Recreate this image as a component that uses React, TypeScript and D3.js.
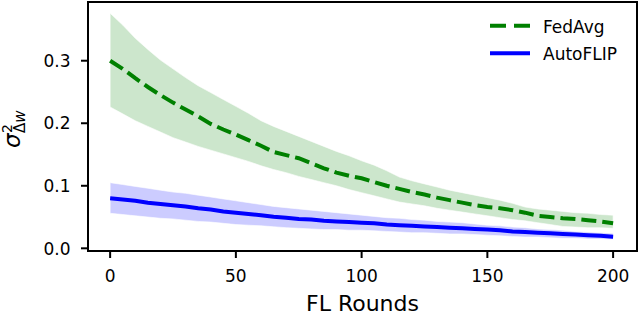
import React from "react";
import * as d3 from "d3";

const rounds = [0,5,10,15,20,25,30,35,40,45,50,55,60,65,70,75,80,85,90,95,100,105,110,115,120,125,130,135,140,145,150,155,160,165,170,175,180,185,190,195,200];

const fedAvgMean = [0.300,0.287,0.272,0.258,0.245,0.233,0.222,0.211,0.199,0.190,0.182,0.173,0.164,0.154,0.149,0.144,0.136,0.128,0.121,0.116,0.112,0.106,0.100,0.095,0.090,0.086,0.081,0.077,0.073,0.069,0.066,0.064,0.061,0.057,0.052,0.050,0.048,0.047,0.045,0.043,0.040];
const fedAvgUpper = [0.376,0.357,0.336,0.318,0.301,0.287,0.273,0.260,0.249,0.238,0.227,0.216,0.204,0.195,0.187,0.179,0.171,0.163,0.155,0.148,0.140,0.133,0.124,0.114,0.108,0.103,0.098,0.093,0.089,0.085,0.081,0.077,0.072,0.066,0.063,0.061,0.059,0.057,0.056,0.054,0.053];
const fedAvgLower = [0.226,0.215,0.204,0.195,0.186,0.177,0.170,0.163,0.157,0.151,0.145,0.139,0.132,0.126,0.121,0.115,0.110,0.105,0.100,0.094,0.089,0.084,0.079,0.074,0.071,0.068,0.064,0.061,0.058,0.055,0.052,0.049,0.046,0.044,0.041,0.038,0.035,0.034,0.033,0.033,0.032];

const autoMean = [0.080,0.078,0.076,0.073,0.071,0.069,0.067,0.064,0.062,0.059,0.057,0.055,0.053,0.0505,0.049,0.047,0.046,0.044,0.043,0.042,0.041,0.040,0.038,0.037,0.036,0.035,0.034,0.033,0.032,0.031,0.030,0.029,0.027,0.026,0.025,0.024,0.023,0.022,0.021,0.020,0.0186];
const autoUpper = [0.105,0.102,0.099,0.096,0.093,0.090,0.088,0.085,0.082,0.079,0.076,0.073,0.070,0.067,0.065,0.063,0.061,0.059,0.057,0.055,0.053,0.051,0.049,0.048,0.046,0.045,0.043,0.042,0.041,0.039,0.037,0.036,0.034,0.033,0.031,0.030,0.029,0.027,0.026,0.025,0.024];
const autoLower = [0.056,0.054,0.052,0.050,0.048,0.047,0.045,0.043,0.042,0.040,0.038,0.037,0.036,0.0345,0.033,0.032,0.031,0.030,0.030,0.029,0.029,0.028,0.027,0.026,0.025,0.025,0.024,0.023,0.023,0.022,0.021,0.020,0.019,0.018,0.018,0.017,0.016,0.016,0.015,0.015,0.014];

const xTicks = [0, 50, 100, 150, 200];
const yTicks = [0.0, 0.1, 0.2, 0.3];
const seriesNames = ["FedAvg", "AutoFLIP"];

const W = 640, H = 315;
const L = 88, R = 637, T = 2, B = 251;
const FONT = "DejaVu Sans, sans-serif";

export default function App() {
  const x = d3.scaleLinear().domain([-8.8, 209.5]).range([L, R]);
  const y = d3.scaleLinear().domain([-0.0043, 0.3939]).range([B, T]);

  const idx = rounds.map((_, i) => i);
  const area = (up: number[], lo: number[]) =>
    d3.area<number>().x(i => x(rounds[i])).y0(i => y(lo[i])).y1(i => y(up[i]))(idx) || "";
  const line = (m: number[]) =>
    d3.line<number>().x(i => x(rounds[i])).y(i => y(m[i]))(idx) || "";

  return (
    <svg width={W} height={H} style={{ position: "absolute", left: 0, top: 0, background: "#fff" }} fontFamily={FONT}>
      <rect x={0} y={0} width={W} height={H} fill="#fff" />
      {/* bands */}
      <path d={area(fedAvgUpper, fedAvgLower)} fill="green" fillOpacity={0.2} stroke="#fff" strokeOpacity={0.6} strokeWidth={1} />
      <path d={area(autoUpper, autoLower)} fill="blue" fillOpacity={0.2} stroke="#fff" strokeOpacity={0.6} strokeWidth={1} />
      {/* lines */}
      <path d={line(fedAvgMean)} fill="none" stroke="green" strokeWidth={4} strokeDasharray="15 6" />
      <path d={line(autoMean)} fill="none" stroke="blue" strokeWidth={4} />
      {/* frame */}
      <rect x={L} y={T} width={R - L} height={B - T} fill="none" stroke="#000" strokeWidth={2} />
      {/* x ticks */}
      {xTicks.map(t => (
        <g key={"x" + t}>
          <line x1={x(t)} x2={x(t)} y1={B} y2={B + 7} stroke="#000" strokeWidth={2} />
          <text x={x(t)} y={B + 31} fontSize={17} textAnchor="middle" fill="#000">{String(t)}</text>
        </g>
      ))}
      {/* y ticks */}
      {yTicks.map(t => (
        <g key={"y" + t}>
          <line x1={L - 7} x2={L} y1={y(t)} y2={y(t)} stroke="#000" strokeWidth={2} />
          <text x={L - 17.5} y={y(t) + 6.2} fontSize={17} textAnchor="end" fill="#000">{t.toFixed(1)}</text>
        </g>
      ))}
      {/* x label */}
      <text x={(L + R) / 2} y={311} fontSize={22} textAnchor="middle" fill="#000">FL Rounds</text>
      {/* y label */}
      <g transform={`translate(20, 148) rotate(-90)`} fill="#000">
        <text x={0} y={0} fontSize={23} fontStyle="italic">σ</text>
        <text x={15} y={-8} fontSize={14}>2</text>
        <text x={15} y={5} fontSize={15}>Δ<tspan fontStyle="italic">w</tspan></text>
      </g>
      {/* legend */}
      <line x1={490} x2={530} y1={25.7} y2={25.7} stroke="green" strokeWidth={4} strokeDasharray="16 8" />
      <text x={543} y={33.3} fontSize={17} fill="#000">{seriesNames[0]}</text>
      <line x1={490} x2={530} y1={53.3} y2={53.3} stroke="blue" strokeWidth={4} />
      <text x={543} y={60} fontSize={17} fill="#000">{seriesNames[1]}</text>
    </svg>
  );
}
